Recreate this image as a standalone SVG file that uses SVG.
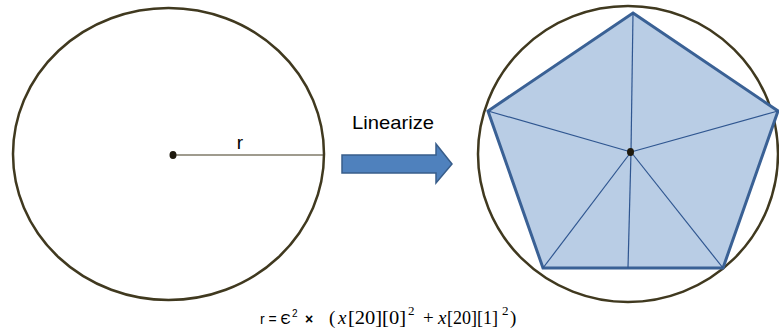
<svg xmlns="http://www.w3.org/2000/svg" width="779" height="333" viewBox="0 0 779 333">
<style>
.circ{fill:none;stroke:#40391f;stroke-width:2.5}
.dot{fill:#1f1a0e}
.spoke{stroke:#2f5690;stroke-width:1.2}
.lbl{font-family:"Liberation Sans",Arial,sans-serif;fill:#000}
.math{font-family:"Liberation Serif","Times New Roman",serif;fill:#000;font-size:19px}
.sup{font-family:"Liberation Serif","Times New Roman",serif;fill:#000;font-size:13px}
</style>
<rect width="779" height="333" fill="#fff"/>
<g id="circle-left">
<ellipse class="circ" cx="168.5" cy="154" rx="155.5" ry="146"/>
<line x1="173" y1="155" x2="324" y2="155" stroke="#40391f" stroke-width="1.2"/>
<ellipse class="dot" cx="173" cy="155" rx="3.5" ry="4"/>
<text class="lbl" x="240" y="149" font-size="19" text-anchor="middle">r</text>
</g>
<g id="arrow">
<text class="lbl" x="352" y="129" font-size="19" textLength="82" lengthAdjust="spacingAndGlyphs">Linearize</text>
<polygon points="342,155 436,155 436,144 452,164 436,183 436,173 342,173" fill="#4f81bd" stroke="#385d8a" stroke-width="1.5"/>
</g>
<g id="circle-right">
<ellipse class="circ" cx="628" cy="154" rx="150" ry="148"/>
<polygon points="633,13 778,111 723,268 543,268 488,111" fill="#b9cde5" stroke="#3a6195" stroke-width="3" stroke-linejoin="miter"/>
<g class="spoke">
<line x1="631" y1="152" x2="633" y2="13"/>
<line x1="631" y1="152" x2="778" y2="111"/>
<line x1="631" y1="152" x2="723" y2="268"/>
<line x1="631" y1="152" x2="543" y2="268"/>
<line x1="631" y1="152" x2="488" y2="111"/>
<line x1="631" y1="152" x2="628" y2="268"/>
</g>
<ellipse class="dot" cx="630.5" cy="152" rx="3.5" ry="4"/>
</g>
<g id="formula">
<text y="324"><tspan class="lbl" font-size="14" x="260">r = Є</tspan><tspan class="lbl" font-size="10" x="292" y="317">2</tspan><tspan class="lbl" font-size="14" font-weight="bold" x="305" y="324">×</tspan><tspan class="math" x="329">(</tspan><tspan class="math" font-style="italic" x="338">x</tspan><tspan class="math" x="348" textLength="58" lengthAdjust="spacingAndGlyphs">[20][0]</tspan><tspan class="sup" x="408" y="315">2</tspan><tspan class="math" x="423" y="324">+</tspan><tspan class="math" font-style="italic" x="438">x</tspan><tspan class="math" x="447" textLength="51" lengthAdjust="spacingAndGlyphs">[20][1]</tspan><tspan class="sup" x="502" y="315">2</tspan><tspan class="math" x="510" y="324">)</tspan></text>
</g>
</svg>
